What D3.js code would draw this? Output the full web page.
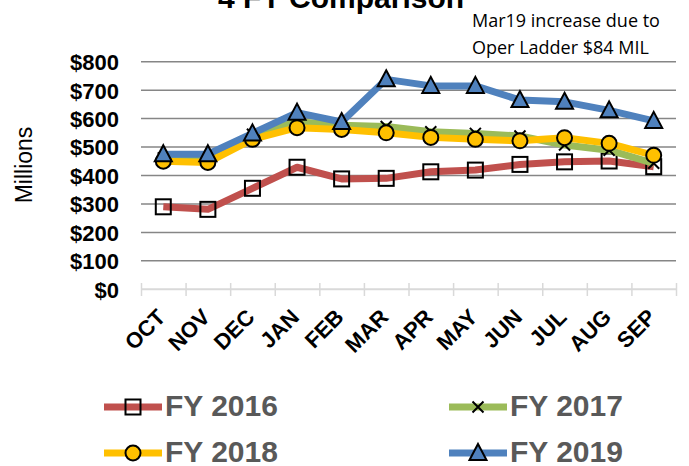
<!DOCTYPE html>
<html>
<head>
<meta charset="utf-8">
<script src="https://cdn.jsdelivr.net/npm/d3@7"></script>
<style>
  body { margin: 0; background: #fff; }
  svg { display: block; }
</style>
</head>
<body>
<script>
// chart values
var months = ["OCT","NOV","DEC","JAN","FEB","MAR","APR","MAY","JUN","JUL","AUG","SEP"];
var fy2016 = [290, 281, 355, 429, 388, 390, 413, 419, 439, 448, 451, 431];
var fy2017 = [462, 462, 545, 589, 577, 572, 554, 548, 539, 507, 489, 443];
var fy2018 = [450, 446, 527, 568, 562, 550, 534, 527, 522, 533, 513, 471];
var fy2019 = [475, 475, 548, 621, 588, 738, 715, 715, 665, 659, 629, 592];
var yTicks = [0, 100, 200, 300, 400, 500, 600, 700, 800];
var seriesNames = ["FY 2016", "FY 2017", "FY 2018", "FY 2019"];

var series = [
  {name: seriesNames[0], values: fy2016, color: "#C0504D", marker: "square"},
  {name: seriesNames[1], values: fy2017, color: "#9BBB59", marker: "x"},
  {name: seriesNames[2], values: fy2018, color: "#FFC000", marker: "circle"},
  {name: seriesNames[3], values: fy2019, color: "#4F81BD", marker: "triangle"}
];

var svg = d3.select("body")
   .append("svg")
   .attr("width", 689)
   .attr("height", 466);

var xScale = d3.scaleBand()
   .domain(months)
   .range([141, 676]);

var yScale = d3.scaleLinear()
   .domain([0, 800])
   .range([289.3, 61.7]);

// title (cut off at top, as in the original)
svg.append("text")
   .text("4 FY Comparison")
   .attr("x", 341)
   .attr("y", 8)
   .attr("text-anchor", "middle")
   .style("font-family", "Liberation Sans, Arial, sans-serif")
   .style("font-weight", "bold")
   .style("font-size", "30px")
   .attr("fill", "#000");

// annotation
var note = svg.append("text")
   .attr("x", 472)
   .style("font-family", "Open Sans, sans-serif")
   .style("font-size", "18px")
   .attr("fill", "#000");
note.append("tspan").attr("x", 472).attr("y", 27).text("Mar19 increase due to");
note.append("tspan").attr("x", 472).attr("y", 54).text("Oper Ladder $84 MIL");

// gridlines
svg.append("g")
   .selectAll("line")
   .data(yTicks.slice(1))
   .enter()
   .append("line")
   .attr("x1", 141)
   .attr("x2", 676)
   .attr("y1", function(d){ return yScale(d); })
   .attr("y2", function(d){ return yScale(d); })
   .attr("stroke", "#868686")
   .attr("stroke-width", 1.5);

// y axis labels
var yAxis = d3.axisLeft(yScale)
   .tickValues(yTicks)
   .tickSize(0)
   .tickPadding(0)
   .tickFormat(function(d){ return "$" + d; });
var yg = svg.append("g").attr("transform", "translate(119,0)").call(yAxis);
yg.select(".domain").remove();
yg.selectAll("text")
   .attr("dy", "0.36em")
   .style("font-family", "Liberation Sans, Arial, sans-serif")
   .style("font-weight", "bold")
   .style("font-size", "22px")
   .attr("fill", "#000");

svg.append("text")
   .text("Millions")
   .attr("transform", "translate(32,165) rotate(-90)")
   .attr("text-anchor", "middle")
   .style("font-family", "Liberation Sans, Arial, sans-serif")
   .style("font-size", "23px")
   .attr("fill", "#000");

// x axis
var xAxisScale = d3.scaleLinear().domain([0, months.length]).range([141, 676]);
var xAxis = d3.axisBottom(xAxisScale)
   .tickValues(d3.range(months.length + 1))
   .tickSize(13)
   .tickFormat("");
var xg = svg.append("g").attr("transform", "translate(0,283)").call(xAxis);
xg.select(".domain").remove();
xg.selectAll("line").attr("stroke", "#D9D9D9").attr("stroke-width", 1.5);
svg.append("line")
   .attr("x1", 141).attr("x2", 676)
   .attr("y1", yScale(0)).attr("y2", yScale(0))
   .attr("stroke", "#D9D9D9")
   .attr("stroke-width", 2);

svg.append("g")
   .selectAll("text")
   .data(months)
   .enter()
   .append("text")
   .text(function(d){ return d; })
   .attr("transform", function(d){
       return "translate(" + (xScale(d) + xScale.bandwidth() / 2 - 2) + ",313) rotate(-45)";
   })
   .attr("text-anchor", "end")
   .attr("dy", "0.35em")
   .style("font-family", "Liberation Sans, Arial, sans-serif")
   .style("font-weight", "bold")
   .style("font-size", "22px")
   .attr("fill", "#000");

// markers
function drawMarker(g, type, color){
    if (type == "square") {
        g.append("rect").attr("x", -7.5).attr("y", -7.5).attr("width", 15).attr("height", 15)
         .attr("fill", "none").attr("stroke", "#000").attr("stroke-width", 2);
    } else if (type == "circle") {
        g.append("circle").attr("r", 7.5)
         .attr("fill", color).attr("stroke", "#000").attr("stroke-width", 2);
    } else if (type == "triangle") {
        g.append("path").attr("d", "M0,-9L8.5,7L-8.5,7Z")
         .attr("fill", color).attr("stroke", "#000").attr("stroke-width", 2);
    } else {
        g.append("path").attr("d", "M-5.5,-5.5L5.5,5.5M5.5,-5.5L-5.5,5.5")
         .attr("fill", "none").attr("stroke", "#000").attr("stroke-width", 2);
    }
}

var line = d3.line()
   .x(function(d, i){ return xScale(months[i]) + xScale.bandwidth() / 2; })
   .y(function(d){ return yScale(d); });

series.forEach(function(s){
    var g = svg.append("g");
    g.append("path")
       .attr("d", line(s.values))
       .attr("fill", "none")
       .attr("stroke", s.color)
       .attr("stroke-width", 7)
       .attr("stroke-linejoin", "round");
    s.values.forEach(function(v, i){
        var m = g.append("g")
           .attr("transform", "translate(" + (xScale(months[i]) + xScale.bandwidth() / 2) + "," + yScale(v) + ")");
        drawMarker(m, s.marker, s.color);
    });
});

// legend
var legendPos = [[104, 407], [449, 407], [104, 453], [449, 453]];
series.forEach(function(s, i){
    var p = legendPos[i];
    var g = svg.append("g").attr("transform", "translate(" + p[0] + "," + p[1] + ")");
    g.append("line").attr("x1", 0).attr("x2", 58).attr("y1", 0).attr("y2", 0)
       .attr("stroke", s.color).attr("stroke-width", 7);
    var m = g.append("g").attr("transform", "translate(29,0)");
    drawMarker(m, s.marker, s.color);
    g.append("text")
       .text(s.name)
       .attr("x", 61)
       .attr("y", 9)
       .style("font-family", "Liberation Sans, Arial, sans-serif")
       .style("font-weight", "bold")
       .style("font-size", "30px")
       .attr("fill", "#595959");
});
</script>
</body>
</html>
